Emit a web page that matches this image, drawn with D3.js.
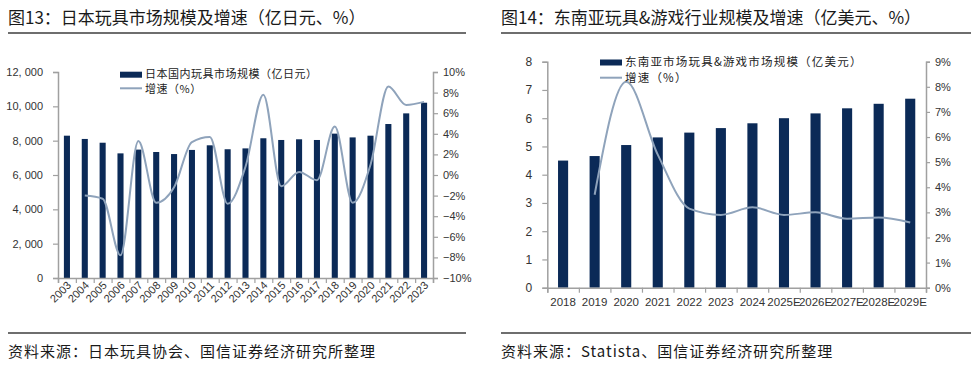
<!DOCTYPE html>
<html><head><meta charset="utf-8">
<script src="https://cdn.jsdelivr.net/npm/d3@7"></script>
<style>
body{margin:0;background:#fff;}
svg text{font-family:"Liberation Sans","Noto Sans CJK SC",Arial,sans-serif;}
.cjk{font-family:"Noto Sans CJK SC","Liberation Sans",sans-serif !important;}
</style></head>
<body><svg id="c" width="971" height="374"></svg>
<script>
// ---- Data: Japan toy market ----
const jpYears = ["2003","2004","2005","2006","2007","2008","2009","2010","2011","2012","2013","2014","2015","2016","2017","2018","2019","2020","2021","2022","2023"];
const jpSize = [8290,8100,7880,7260,7480,7340,7220,7460,7730,7500,7550,8140,8040,8080,8040,8410,8190,8290,8970,9590,10210];
const jpGrowthYears = ["2004","2005","2006","2007","2008","2009","2010","2011","2012","2013","2014","2015","2016","2017","2018","2019","2020","2021","2022","2023"];
const jpGrowth = [-2.0,-2.3,-7.8,3.3,-2.7,-1.2,3.2,3.7,-2.8,0.8,7.8,-1.1,0.3,-0.5,4.7,-2.7,1.0,8.6,6.8,7.1];
const jpLeftTicks = [0,2000,4000,6000,8000,10000,12000];
const jpRightTicks = [-10,-8,-6,-4,-2,0,2,4,6,8,10];

// ---- Data: Southeast Asia toy & game market ----
const seaYears = ["2018","2019","2020","2021","2022","2023","2024","2025E","2026E","2027E","2028E","2029E"];
const seaSize = [4.50,4.66,5.05,5.32,5.49,5.65,5.82,6.00,6.17,6.35,6.51,6.69];
const seaGrowthYears = ["2019","2020","2021","2022","2023","2024","2025E","2026E","2027E","2028E","2029E"];
const seaGrowth = [3.7,8.2,5.3,3.15,2.9,3.2,2.9,3.0,2.75,2.8,2.6];
const seaLeftTicks = [0,1,2,3,4,5,6,7,8];
const seaRightTicks = [0,1,2,3,4,5,6,7,8,9];

const BAR = "#0b2a57", LINE = "#8fa3bb", AXIS = "#a0a0a0", TXT = "#333";
const svg = d3.select("#c");

function styleAxis(g){
  g.select(".domain").attr("stroke",AXIS).attr("stroke-width",1.5);
  g.selectAll(".tick line").attr("stroke",AXIS).attr("stroke-width",1.2);
  g.selectAll(".tick text").attr("fill",TXT).attr("font-size",11);
}

// titles and rules
function header(x0,x1,title){
  svg.append("text").attr("class","cjk").attr("x",x0).attr("y",24).attr("font-size",17).attr("fill","#1a1a1a").text(title);
  svg.append("line").attr("x1",x0).attr("x2",x1).attr("y1",33).attr("y2",33).attr("stroke","#6e6e6e").attr("stroke-width",2);
}
function footer(x0,x1,src){
  svg.append("line").attr("x1",x0).attr("x2",x1).attr("y1",333).attr("y2",333).attr("stroke","#6e6e6e").attr("stroke-width",2);
  svg.append("text").attr("class","cjk").attr("x",x0).attr("y",357).attr("font-size",15).attr("letter-spacing",1).attr("fill","#1a1a1a").text(src);
}
header(8,466,"图13：日本玩具市场规模及增速（亿日元、%）");
header(501,971,"图14：东南亚玩具&游戏行业规模及增速（亿美元、%）");
footer(8,466,"资料来源：日本玩具协会、国信证券经济研究所整理");
footer(501,971,"资料来源：Statista、国信证券经济研究所整理");

function legend(x,y1,y2,label,fs,ls){
  svg.append("rect").attr("x",x).attr("y",y1-3).attr("width",22).attr("height",6).attr("fill",BAR);
  svg.append("text").attr("class","cjk").attr("x",x+25).attr("y",y1+3.5).attr("font-size",fs).attr("letter-spacing",ls).attr("fill","#222").text(label);
  svg.append("line").attr("x1",x).attr("x2",x+22).attr("y1",y2).attr("y2",y2).attr("stroke",LINE).attr("stroke-width",2);
  svg.append("text").attr("class","cjk").attr("x",x+25).attr("y",y2+4.5).attr("font-size",fs).attr("letter-spacing",ls).attr("fill","#222").text("增速（%）");
}

// ===== Left chart =====
{
  const L=58,R=433,T=72,B=278;
  const x = d3.scaleBand().domain(jpYears).range([L,R]).paddingInner(0.66).paddingOuter(0.33);
  const xi = d3.scaleLinear().domain([0,jpYears.length]).range([L,R]);
  const yL = d3.scaleLinear().domain([0,12000]).range([B,T]);
  const yR = d3.scaleLinear().domain([-10,10]).range([B,T]);
  svg.append("g").selectAll("rect").data(jpYears).join("rect")
    .attr("x",d=>x(d)).attr("width",x.bandwidth())
    .attr("y",(d,i)=>yL(jpSize[i])).attr("height",(d,i)=>B-yL(jpSize[i])).attr("fill",BAR);
  const ga = svg.append("g").attr("transform",`translate(${L},0)`)
    .call(d3.axisLeft(yL).tickValues(jpLeftTicks).tickSize(5).tickPadding(10).tickFormat(d=>d3.format(",")(d).replace(",",", ")));
  styleAxis(ga);
  const gb = svg.append("g").attr("transform",`translate(${R},0)`)
    .call(d3.axisRight(yR).tickValues(jpRightTicks).tickSize(5).tickPadding(5).tickFormat(d=>(d<0?"\u2212"+(-d):d)+"%"));
  styleAxis(gb);
  const gx = svg.append("g").attr("transform",`translate(0,${B})`)
    .call(d3.axisBottom(xi).tickValues(d3.range(jpYears.length+1)).tickSize(5).tickFormat(""));
  styleAxis(gx);
  svg.append("g").selectAll("text").data(jpYears).join("text")
    .attr("transform",d=>`translate(${x(d)+x.bandwidth()/2+5},${B+8}) rotate(-45)`)
    .attr("text-anchor","end").attr("font-size",11).attr("fill",TXT).text(d=>d);
  const line = d3.line().x((d,i)=>x(jpGrowthYears[i])+x.bandwidth()/2).y(d=>yR(d)).curve(d3.curveMonotoneX);
  svg.append("path").attr("d",line(jpGrowth)).attr("fill","none").attr("stroke",LINE).attr("stroke-width",2);
  legend(120,74.7,88.3,"日本国内玩具市场规模（亿日元）",11,0.5);
}

// ===== Right chart =====
{
  const L=547.3,R=926,T=61.7,B=287.7;
  const x = d3.scaleBand().domain(seaYears).range([L,R]).paddingInner(0.68).paddingOuter(0.34);
  const xi = d3.scaleLinear().domain([0,seaYears.length]).range([L,R]);
  const yL = d3.scaleLinear().domain([0,8]).range([B,T]);
  const yR = d3.scaleLinear().domain([0,9]).range([B,T]);
  svg.append("g").selectAll("rect").data(seaYears).join("rect")
    .attr("x",d=>x(d)).attr("width",x.bandwidth())
    .attr("y",(d,i)=>yL(seaSize[i])).attr("height",(d,i)=>B-yL(seaSize[i])).attr("fill",BAR);
  const ga = svg.append("g").attr("transform",`translate(${L},0)`)
    .call(d3.axisLeft(yL).tickValues(seaLeftTicks).tickSize(5).tickPadding(10));
  styleAxis(ga); ga.selectAll(".tick text").attr("font-size",12);
  const gb = svg.append("g").attr("transform",`translate(${R},0)`)
    .call(d3.axisRight(yR).tickValues(seaRightTicks).tickSize(4).tickPadding(5).tickFormat(d=>d+"%"));
  styleAxis(gb);
  const gx = svg.append("g").attr("transform",`translate(0,${B})`)
    .call(d3.axisBottom(xi).tickValues(d3.range(seaYears.length+1)).tickSize(5).tickFormat(""));
  styleAxis(gx);
  svg.append("g").selectAll("text").data(seaYears).join("text")
    .attr("x",d=>x(d)+x.bandwidth()/2).attr("y",B+18)
    .attr("text-anchor","middle").attr("font-size",11.5).attr("fill",TXT).text(d=>d);
  const line = d3.line().x((d,i)=>x(seaGrowthYears[i])+x.bandwidth()/2).y(d=>yR(d)).curve(d3.curveMonotoneX);
  svg.append("path").attr("d",line(seaGrowth)).attr("fill","none").attr("stroke",LINE).attr("stroke-width",2);
  legend(600,62.5,77.7,"东南亚市场玩具&游戏市场规模（亿美元）",11.5,1.2);
}
</script></body></html>
